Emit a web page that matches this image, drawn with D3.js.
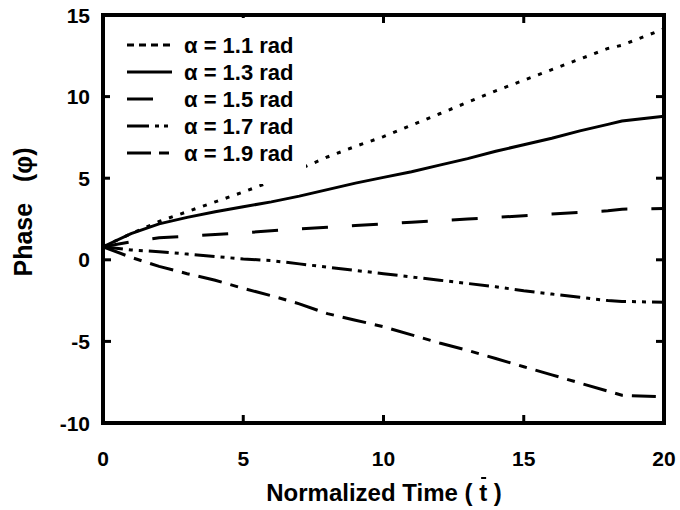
<!DOCTYPE html>
<html>
<head>
<meta charset="utf-8">
<script src="https://cdn.jsdelivr.net/npm/d3@7"></script>
<style>
html,body{margin:0;padding:0;background:#fff;}
svg{display:block;}
text{font-family:Arial,"Liberation Sans",sans-serif;font-weight:bold;fill:#000;}
</style>
</head>
<body>
<svg id="chart" width="680" height="510"></svg>
<script>
const times = [0,1,2,3,4,5,6,7,8,9,10,11,12,13,14,15,16,17,18,18.5,20];
const phase11 = [0.8,1.6,2.35,2.95,3.55,4.15,4.8,5.55,6.3,6.95,7.55,8.25,8.95,9.65,10.35,11.0,11.65,12.3,12.95,13.15,14.15];
const phase13 = [0.8,1.6,2.2,2.6,2.95,3.25,3.55,3.9,4.3,4.7,5.05,5.4,5.8,6.2,6.65,7.05,7.45,7.9,8.3,8.5,8.8];
const phase15 = [0.8,1.1,1.35,1.45,1.55,1.65,1.78,1.9,2.0,2.1,2.2,2.3,2.4,2.5,2.6,2.7,2.8,2.9,3.0,3.1,3.15];
const phase17 = [0.8,0.6,0.5,0.35,0.2,0.05,-0.05,-0.25,-0.45,-0.65,-0.85,-1.05,-1.25,-1.45,-1.65,-1.9,-2.1,-2.3,-2.5,-2.55,-2.6];
const phase19 = [0.8,0.15,-0.4,-0.85,-1.25,-1.75,-2.2,-2.7,-3.3,-3.7,-4.1,-4.6,-5.1,-5.55,-6.05,-6.55,-7.05,-7.55,-8.05,-8.3,-8.4];
const seriesLabels = ["α = 1.1 rad","α = 1.3 rad","α = 1.5 rad","α = 1.7 rad","α = 1.9 rad"];
const xTicks = [0,5,10,15,20];
const yTicks = [-10,-5,0,5,10,15];
const xTitle = "Normalized Time ( t )";
const yTitle = "Phase   (φ)";

const seriesValues = [phase11, phase13, phase15, phase17, phase19];
const dashes = ["4,8", null, "26,24", "20,6,4,6,4,6", "24,9,8,9"];
const legendDashes = ["7,5", null, "26,100", "22,6,4,5,4,5", "24,8,10,9"];

const svg = d3.select("#chart");
const x = d3.scaleLinear().domain([0,20]).range([103,664]);
const y = d3.scaleLinear().domain([-10,15]).range([423,15]);

// ticks (inward) on all four sides
const tl = 8;
const tickG = svg.append("g").attr("stroke","#000").attr("stroke-width",3);
yTicks.forEach(v=>{
  tickG.append("line").attr("x1",x(0)).attr("x2",x(0)+tl).attr("y1",y(v)).attr("y2",y(v));
  tickG.append("line").attr("x1",x(20)).attr("x2",x(20)-tl).attr("y1",y(v)).attr("y2",y(v));
});
xTicks.forEach(v=>{
  tickG.append("line").attr("x1",x(v)).attr("x2",x(v)).attr("y1",y(-10)).attr("y2",y(-10)-tl);
  tickG.append("line").attr("x1",x(v)).attr("x2",x(v)).attr("y1",y(15)).attr("y2",y(15)+tl);
});

// lines
const lineGen = d3.line().x(d=>x(d[0])).y(d=>y(d[1]));
seriesValues.forEach((vals,i)=>{
  const pts = times.map((t,j)=>[t,vals[j]]);
  svg.append("path").attr("d",lineGen(pts)).attr("fill","none")
    .attr("stroke","#000").attr("stroke-width",3)
    .attr("stroke-dasharray",dashes[i]);
});

// legend
const lg = svg.append("g");
lg.append("rect").attr("x",110).attr("y",18).attr("width",196).attr("height",166).attr("fill","#fff");
seriesLabels.forEach((lab,i)=>{
  const cy = 45 + i*27;
  lg.append("line").attr("x1",127).attr("x2",i===2?153:172).attr("y1",cy).attr("y2",cy)
    .attr("stroke","#000").attr("stroke-width",3).attr("stroke-dasharray",legendDashes[i]);
  lg.append("text").attr("x",184).attr("y",cy+7.5).attr("font-size",22).text(lab);
});

// frame
svg.append("rect").attr("x",x(0)).attr("y",y(15)).attr("width",x(20)-x(0)).attr("height",y(-10)-y(15))
  .attr("fill","none").attr("stroke","#000").attr("stroke-width",4);

// tick labels
yTicks.forEach(v=>{
  svg.append("text").attr("x",90).attr("y",y(v)+7.5).attr("text-anchor","end").attr("font-size",21).text(v);
});
xTicks.forEach(v=>{
  svg.append("text").attr("x",x(v)).attr("y",466).attr("text-anchor","middle").attr("font-size",21).text(v);
});

// axis titles
const xt = svg.append("text").attr("x",384).attr("y",501).attr("text-anchor","middle")
  .attr("font-size",24).attr("xml:space","preserve").style("white-space","pre").text(xTitle);
const node = xt.node();
const idx = xTitle.lastIndexOf("t");
const s = node.getStartPositionOfChar(idx), e = node.getEndPositionOfChar(idx);
svg.append("line").attr("x1",s.x+2).attr("x2",e.x-1).attr("y1",478).attr("y2",478)
  .attr("stroke","#000").attr("stroke-width",2);

svg.append("text").attr("transform","translate(32,212) rotate(-90)").attr("text-anchor","middle")
  .attr("font-size",25).attr("xml:space","preserve").style("white-space","pre").text(yTitle);
</script>
</body>
</html>
